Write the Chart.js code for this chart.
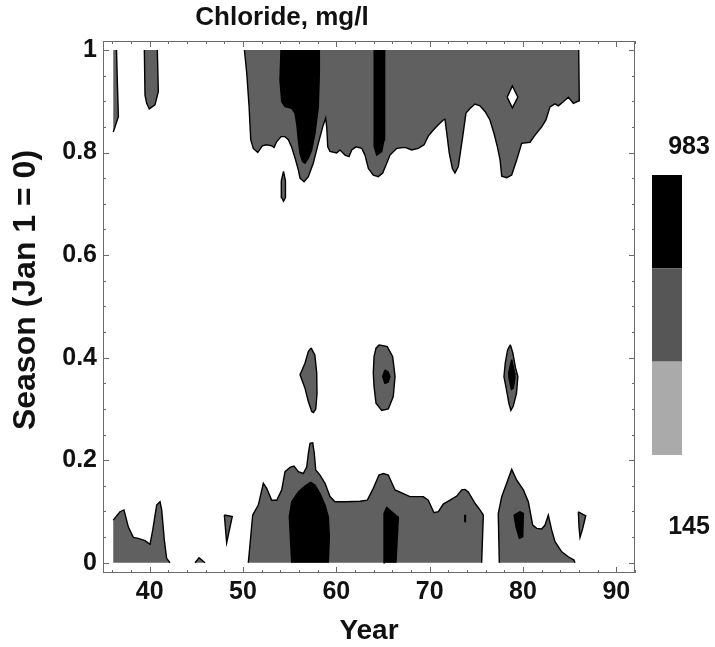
<!DOCTYPE html>
<html>
<head>
<meta charset="utf-8">
<script src="https://cdn.jsdelivr.net/npm/chart.js@4.4.1/dist/chart.umd.min.js"></script>
<style>
  html, body { margin: 0; padding: 0; background: #fff; }
</style>
</head>
<body>
<canvas id="chloride" width="715" height="647"></canvas>
<script>
const xTicks = [40, 50, 60, 70, 80, 90];
const yTicks = [0, 0.2, 0.4, 0.6, 0.8, 1];
const legendLabels = [983, 145];
const legendColors = ['#000000', '#565656', '#aaaaaa'];   // top to bottom
const firstYear = 36.1;

// contour outlines, [year, season]
const topSliver = [[36.1, 1], [36.45, 1], [36.55, 0.93], [36.65, 0.87], [36.1, 0.84]];
const topFinger = [[39.43, 1], [39.5, 0.912], [39.68, 0.896], [39.96, 0.885], [40.1, 0.887],
  [40.57, 0.893], [40.93, 0.919], [40.82, 1]];
const topBand = [[50.15, 1], [50.4, 0.955], [50.65, 0.89], [50.83, 0.825], [51.1, 0.808],
  [51.58, 0.8], [52.07, 0.813], [52.54, 0.815], [53.08, 0.813], [53.33, 0.81], [53.6, 0.821],
  [54.08, 0.831], [54.5, 0.831], [54.86, 0.825], [55.2, 0.811], [55.58, 0.789], [55.93, 0.766],
  [56.11, 0.75], [56.54, 0.743], [57.0, 0.753], [57.53, 0.779], [58.07, 0.818], [58.54, 0.85],
  [58.86, 0.867], [58.97, 0.85], [59.08, 0.811], [59.32, 0.802], [60.04, 0.799], [60.39, 0.805],
  [60.93, 0.795], [61.36, 0.792], [61.65, 0.805], [62.11, 0.811], [62.72, 0.808], [63.07, 0.795],
  [63.43, 0.769], [63.96, 0.756], [64.5, 0.753], [64.97, 0.76], [65.4, 0.779], [65.75, 0.795],
  [66.47, 0.808], [67.36, 0.81], [68.08, 0.805], [68.78, 0.808], [69.4, 0.815], [69.85, 0.832],
  [70.39, 0.844], [70.93, 0.854], [71.46, 0.8635], [71.64, 0.865], [71.83, 0.838], [72.1, 0.799],
  [72.43, 0.769], [72.71, 0.76], [73.07, 0.7725], [73.33, 0.805], [73.54, 0.831], [73.89, 0.877],
  [74.32, 0.886], [74.86, 0.8945], [75.39, 0.891], [75.93, 0.88], [76.46, 0.8635], [76.89, 0.8375],
  [77.25, 0.8115], [77.54, 0.786], [77.72, 0.754], [78.26, 0.751], [78.79, 0.756], [79.33, 0.786],
  [79.86, 0.818], [80.75, 0.82], [81.29, 0.834], [82.0, 0.85], [82.46, 0.8635], [82.89, 0.889],
  [83.43, 0.895], [83.79, 0.891], [84.32, 0.899], [84.86, 0.908], [85.39, 0.896], [86.03, 0.901],
  [85.97, 1]];
const topDot = [[54.34, 0.763], [54.55, 0.745], [54.6, 0.73], [54.5, 0.712], [54.34, 0.705],
  [54.15, 0.712], [54.08, 0.73], [54.13, 0.745]];
const topPeak1 = [[54.07, 1], [53.96, 0.9415], [54.15, 0.899], [54.5, 0.8895], [55.22, 0.886],
  [55.57, 0.8765], [55.75, 0.857], [55.93, 0.8245], [56.1, 0.7985], [56.4, 0.782], [56.64, 0.779],
  [57.0, 0.789], [57.36, 0.805], [57.71, 0.8375], [58.07, 0.889], [58.18, 0.9545], [58.18, 1]];
const topPeak2 = [[64.14, 1], [64.07, 0.889], [64.04, 0.8115], [64.33, 0.795], [64.86, 0.802],
  [65.11, 0.8245], [65.21, 0.9025], [65.14, 1]];
const topHole = [[78.3, 0.908], [78.86, 0.93], [79.45, 0.908], [78.86, 0.887]];

const midOval1 = [[57.29, 0.419], [57.7, 0.405], [57.9, 0.37], [57.93, 0.33], [57.8, 0.3],
  [57.55, 0.293], [57.36, 0.295], [57.0, 0.3145], [56.64, 0.3405], [56.11, 0.3665], [56.64, 0.389],
  [57.0, 0.412]];
const midOval2 = [[64.6, 0.425], [65.46, 0.4215], [66.04, 0.402], [66.29, 0.363], [66.1, 0.324],
  [65.57, 0.3], [64.86, 0.297], [64.25, 0.311], [64.04, 0.344], [63.96, 0.37], [64.04, 0.402],
  [64.25, 0.4185]];
const midCore2 = [[65.2, 0.376], [65.55, 0.372], [65.75, 0.363], [65.55, 0.352], [65.2, 0.35], [64.97, 0.363]];
const midOval3 = [[78.64, 0.425], [78.9, 0.41], [79.2, 0.38], [79.45, 0.363], [79.3, 0.33],
  [78.95, 0.305], [78.7, 0.297], [78.5, 0.31], [78.2, 0.34], [77.96, 0.363], [78.1, 0.39], [78.35, 0.415]];
const midCore3 = [[78.79, 0.396], [79.1, 0.37], [79.14, 0.36], [78.95, 0.34], [78.75, 0.338],
  [78.5, 0.36], [78.45, 0.37]];

const lowLeft = [[36.1, 0], [36.1, 0.083], [36.82, 0.0995], [37.25, 0.103], [37.71, 0.07],
  [38.25, 0.0495], [38.78, 0.0475], [39.5, 0.043], [40.04, 0.036], [40.33, 0.064], [40.75, 0.1125],
  [41.11, 0.119], [41.29, 0.103], [41.57, 0.044], [41.82, 0.0086], [42.18, 0]];
const lowBump = [[44.86, 0], [45.29, 0.0097], [45.93, 0]];
const lowSpike = [[48.0, 0.093], [48.85, 0.09], [48.25, 0.039]];
const lowBand = [[50.57, 0], [51.04, 0.093], [51.64, 0.1125], [52.18, 0.155], [52.54, 0.145],
  [53.08, 0.122], [53.61, 0.122], [54.15, 0.142], [54.5, 0.1775], [55.04, 0.186], [55.46, 0.1885],
  [55.93, 0.1775], [56.46, 0.174], [56.83, 0.187], [57.0, 0.213], [57.18, 0.233], [57.47, 0.234],
  [57.64, 0.213], [57.79, 0.181], [58.25, 0.171], [58.79, 0.155], [59.32, 0.129], [59.86, 0.119],
  [61.11, 0.119], [62.54, 0.12], [63.32, 0.122], [63.96, 0.145], [64.57, 0.171], [65.03, 0.174],
  [65.57, 0.171], [66.29, 0.142], [67.18, 0.135], [67.89, 0.129], [69.32, 0.129], [69.85, 0.122],
  [70.46, 0.0975], [70.93, 0.0995], [71.46, 0.1145], [72.18, 0.122], [72.9, 0.13], [73.43, 0.142],
  [73.79, 0.143], [74.14, 0.138], [74.86, 0.116], [75.39, 0.103], [75.75, 0.093], [75.57, 0]];
const lowRight = [[77.46, 0], [77.35, 0.096], [77.72, 0.1287], [78.25, 0.155], [78.79, 0.182],
  [79.33, 0.161], [80.04, 0.142], [80.57, 0.119], [81.04, 0.0735], [81.47, 0.067], [82.0, 0.0657],
  [82.36, 0.0735], [82.71, 0.093], [83.07, 0.064], [83.43, 0.041], [84.15, 0.0214], [84.86, 0.0117],
  [85.46, 0.0053], [85.57, 0]];
const lowSliver = [[85.93, 0.0994], [86.72, 0.0916], [86.4, 0.067], [86.11, 0.0495], [86.0, 0.07]];
const lowCore1 = [[55.22, 0], [54.96, 0.0897], [55.22, 0.119], [55.93, 0.138], [56.64, 0.1495],
  [57.25, 0.157], [57.71, 0.1515], [58.25, 0.135], [58.79, 0.1125], [59.14, 0.0897], [59.25, 0.0507],
  [59.14, 0]];
const lowCore2 = [[65.21, 0], [65.11, 0.096], [65.4, 0.108], [65.93, 0.0995], [66.64, 0.0885], [66.39, 0]];
const lowCore3 = [[73.76, 0.08], [73.84, 0.08], [73.84, 0.092], [73.76, 0.092]];
const lowCore4 = [[79.04, 0.093], [79.68, 0.0994], [80.04, 0.096], [79.97, 0.0507], [79.61, 0.0476], [79.25, 0.07]];

const grayShapes = [topSliver, topFinger, topBand, topDot, midOval1, midOval2, midOval3,
  lowLeft, lowBump, lowSpike, lowBand, lowRight, lowSliver];
const blackShapes = [topPeak1, topPeak2, midCore2, midCore3, lowCore1, lowCore2, lowCore3, lowCore4];
const whiteShapes = [topHole];

// segments lying on the edge of the data (first year, Jan 1, Dec 31) get no contour line
function onEdge(a, b) {
  if (a[1] === b[1] && (a[1] === 0 || a[1] === 1)) return true;
  return a[0] === firstYear && b[0] === firstYear;
}

function outlineRuns(poly) {
  const pts = poly.concat([poly[0]]);
  const runs = [];
  let run = [pts[0]];
  for (let i = 0; i < pts.length - 1; i++) {
    if (onEdge(pts[i], pts[i + 1])) {
      if (run.length > 1) runs.push(run);
      run = [pts[i + 1]];
    } else {
      run.push(pts[i + 1]);
    }
  }
  if (run.length > 1) runs.push(run);
  return runs;
}

const toXY = p => ({x: p[0], y: p[1]});

function fillSet(poly, color, order) {
  return {
    data: poly.map(toXY), showLine: true, fill: 'shape',
    backgroundColor: color, borderWidth: 0, pointRadius: 0, order: order
  };
}

function lineSets(poly, order) {
  return outlineRuns(poly).map(run => ({
    data: run.map(toXY), showLine: true, fill: false,
    borderColor: '#000', borderWidth: 1.4, pointRadius: 0, order: order
  }));
}

const datasets = [];
grayShapes.forEach(s => { datasets.push(fillSet(s, '#606060', 4)); datasets.push(...lineSets(s, 3)); });
blackShapes.forEach(s => { datasets.push(fillSet(s, '#000000', 2)); datasets.push(...lineSets(s, 1)); });
whiteShapes.forEach(s => { datasets.push(fillSet(s, '#ffffff', 2)); datasets.push(...lineSets(s, 1)); });

const FONT = "'Liberation Sans', Arial, sans-serif";

const decorations = {
  id: 'decorations',
  afterDraw(chart) {
    const {ctx, chartArea: a, scales: {x, y}} = chart;
    ctx.save();
    ctx.strokeStyle = '#6a6a6a';
    ctx.lineWidth = 1;
    ctx.strokeRect(a.left + 0.5, a.top + 0.5, a.right - a.left - 1, a.bottom - a.top - 1);
    ctx.beginPath();
    for (let v = 36; v <= 92; v += 2) {
      const px = Math.round(x.getPixelForValue(v)) + 0.5;
      const len = v % 10 === 0 ? 6 : 3;
      ctx.moveTo(px, a.bottom); ctx.lineTo(px, a.bottom - len);
      ctx.moveTo(px, a.top); ctx.lineTo(px, a.top + len);
    }
    for (let k = 0; k <= 20; k++) {
      const py = Math.round(y.getPixelForValue(k * 0.05)) + 0.5;
      const len = k % 4 === 0 ? 6 : 3;
      ctx.moveTo(a.left, py); ctx.lineTo(a.left + len, py);
      ctx.moveTo(a.right, py); ctx.lineTo(a.right - len, py);
    }
    ctx.stroke();

    ctx.fillStyle = '#111';
    ctx.textAlign = 'center';
    ctx.textBaseline = 'middle';
    ctx.font = 'bold 26px ' + FONT;
    ctx.fillText('Chloride, mg/l', 282, 18);

    ctx.save();
    ctx.translate(26, 290);
    ctx.rotate(-Math.PI / 2);
    ctx.font = 'bold 32px ' + FONT;
    ctx.fillText('Season (Jan 1 = 0)', 0, 0);
    ctx.restore();

    // colour key
    const barTop = 175, barBottom = 455, barLeft = 652, barWidth = 30;
    const step = (barBottom - barTop) / legendColors.length;
    legendColors.forEach((c, i) => {
      ctx.fillStyle = c;
      ctx.fillRect(barLeft, barTop + i * step, barWidth, step);
    });
    ctx.fillStyle = '#111';
    ctx.font = 'bold 25px ' + FONT;
    ctx.fillText(String(legendLabels[0]), 689, 147);
    ctx.fillText(String(legendLabels[1]), 689, 527);
    ctx.restore();
  }
};

new Chart(document.getElementById('chloride'), {
  type: 'scatter',
  data: {datasets: datasets},
  options: {
    responsive: false,
    animation: false,
    events: [],
    layout: {padding: {top: 41, right: 80, left: 0, bottom: 0}},
    plugins: {legend: {display: false}, tooltip: {enabled: false}, title: {display: false}},
    scales: {
      x: {
        type: 'linear', min: 35, max: 92,
        grid: {display: false, drawTicks: false},
        border: {display: false},
        afterBuildTicks: axis => { axis.ticks = xTicks.map(v => ({value: v})); },
        afterFit: axis => { axis.height = 74; },
        ticks: {padding: 4, color: '#111', font: {family: FONT, size: 25, weight: 'bold'}},
        title: {display: true, text: 'Year', color: '#111', padding: {top: 0, bottom: 2},
          font: {family: FONT, size: 28, weight: 'bold', lineHeight: 1}}
      },
      y: {
        type: 'linear', min: -0.02, max: 1.0175,
        grid: {display: false, drawTicks: false},
        border: {display: false},
        afterBuildTicks: axis => { axis.ticks = yTicks.map(v => ({value: v})); },
        afterFit: axis => { axis.width = 103; },
        ticks: {padding: 6, color: '#111', font: {family: FONT, size: 25, weight: 'bold'},
          callback: v => (v === 0 || v === 1) ? String(v) : v.toFixed(1)}
      }
    }
  },
  plugins: [decorations]
});
</script>
</body>
</html>
